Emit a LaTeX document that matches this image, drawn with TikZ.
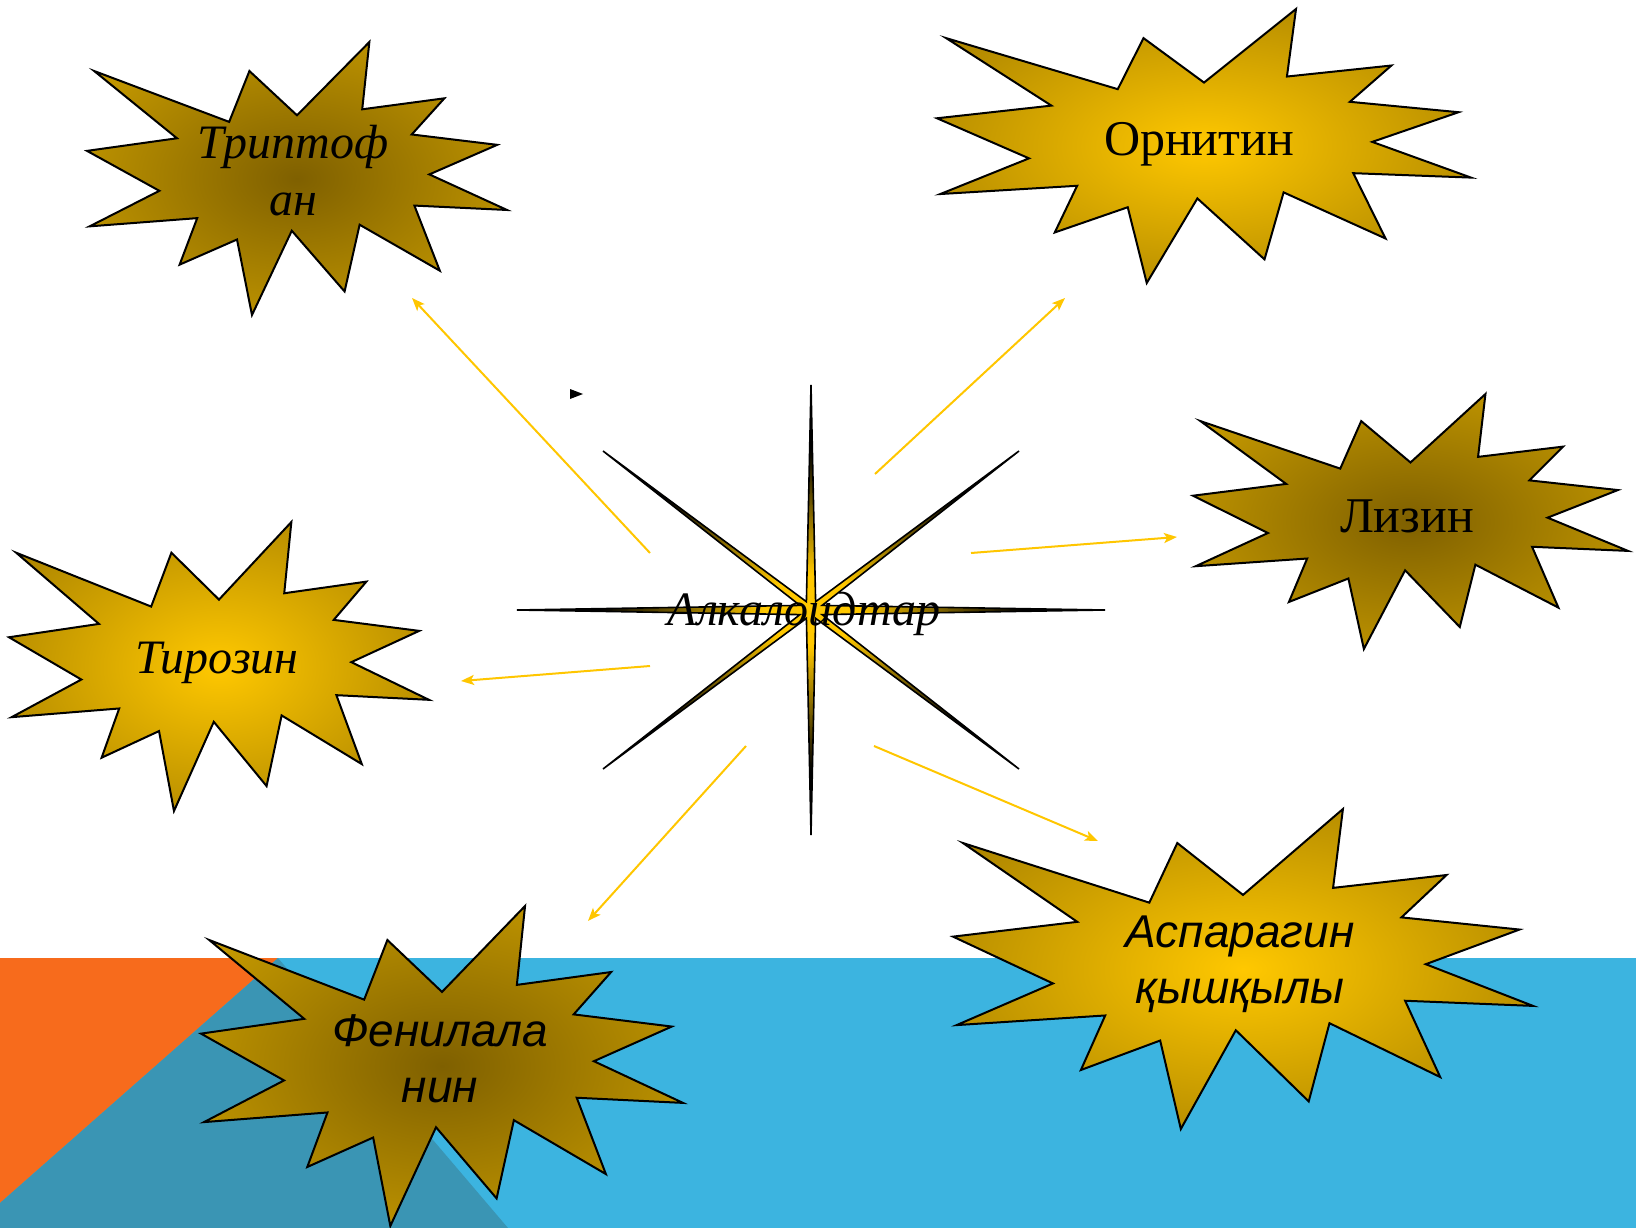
\documentclass[tikz,border=0pt]{standalone}
\usepackage{fontspec}
\setmainfont{Liberation Serif}
\newfontfamily\arialf{Liberation Sans}
\usetikzlibrary{arrows.meta}
\definecolor{goldlt}{HTML}{FFC800}
\definecolor{golddk}{HTML}{7F6000}
\definecolor{arrowc}{HTML}{FFC600}
\definecolor{bandblue}{HTML}{3CB4E0}
\definecolor{bandteal}{HTML}{3A95B4}
\definecolor{bandorange}{HTML}{F76B1C}
\newcommand{\SerifF}{\fontsize{48}{57}\selectfont}
\newcommand{\SerifL}{\fontsize{50}{57}\selectfont}
\newcommand{\SansF}{\fontsize{46}{56}\selectfont\arialf}
\pgfdeclareradialshading{brightcore}{\pgfpoint{0bp}{0bp}}{color(0bp)=(goldlt); color(47bp)=(golddk); color(100bp)=(golddk)}
\pgfdeclareradialshading{darkcore}{\pgfpoint{0bp}{0bp}}{color(0bp)=(golddk); color(46bp)=(goldlt!92!black); color(100bp)=(goldlt!92!black)}
\pgfdeclareradialshading{starcore}{\pgfpoint{0bp}{0bp}}{color(0bp)=(goldlt); color(4bp)=(goldlt); color(18bp)=(black); color(42bp)=(black); color(50bp)=(white!60!black); color(100bp)=(white)}
\tikzset{
  burstline/.style={draw=black, line width=2pt},
  feed/.style={draw=arrowc, line width=2pt, -{Stealth[length=13pt, width=10pt, inset=3pt]}},
  serifi/.style={font=\SerifF\itshape, align=center, anchor=base},
  serifu/.style={font=\SerifL, anchor=base},
  sansi/.style={font=\SansF\itshape, align=center, anchor=base},
}
% left, top, width, height, shading
\newcommand{\burst}[5]{%
  \begin{scope}[shift={(#1,#2)}, x=#3pt, y=-#4pt]
    \shadedraw[burstline, shading=#5] (0.5,0.2685) -- (0.6723,0) -- (0.6553,0.2465)
      -- (0.8509,0.2063) -- (0.7732,0.3387) -- (0.9767,0.3767) -- (0.8151,0.4850)
      -- (1,0.6153) -- (0.7795,0.5992) -- (0.8400,0.8377) -- (0.6491,0.6693)
      -- (0.6133,0.9138) -- (0.4876,0.6914) -- (0.3928,1) -- (0.3572,0.7235)
      -- (0.2205,0.8156) -- (0.2624,0.6452) -- (0.00625,0.6753) -- (0.1723,0.5451)
      -- (0,0.3988) -- (0.2142,0.3526) -- (0.0171,0.1063) -- (0.3385,0.2926)
      -- (0.3867,0.1063) -- cycle;
  \end{scope}
}

\begin{document}
\begin{tikzpicture}[x=1pt,y=-1pt]
\useasboundingbox (0,0) rectangle (1636,1228);
% background bands
\fill[bandblue] (0,958) rectangle (1636,1228);
\fill[bandorange] (0,958) -- (278,958) -- (0,1203) -- cycle;
\fill[bandteal] (0,1203) -- (278,958) -- (508,1228) -- (0,1228) -- cycle;

% arrows out of the centre
\coordinate (tTr) at (650,553);  \coordinate (hTr) at (412,298);
\coordinate (tOr) at (875,474);  \coordinate (hOr) at (1065,298);
\coordinate (tLy) at (971,553);  \coordinate (hLy) at (1177,537);
\coordinate (tTy) at (650,666);  \coordinate (hTy) at (461,681);
\coordinate (tPh) at (746,746);  \coordinate (hPh) at (588,921);
\coordinate (tAs) at (874,746);  \coordinate (hAs) at (1098,841);
\draw[feed] (tTr) -- (hTr);
\draw[feed] (tOr) -- (hOr);
\draw[feed] (tLy) -- (hLy);
\draw[feed] (tTy) -- (hTy);
\draw[feed] (tPh) -- (hPh);
\draw[feed] (tAs) -- (hAs);

% centre star
\begin{scope}[shift={(811,610)}]
  \shadedraw[shading=starcore, draw=black, line width=1.6pt]
    (294,0) -- (11.1,4.6) -- (208,159) -- (4.6,8.3) -- (0,225) -- (-4.6,8.3)
    -- (-208,159) -- (-11.1,4.6) -- (-294,0) -- (-11.1,-4.6) -- (-208,-159)
    -- (-4.6,-8.3) -- (0,-225) -- (4.6,-8.3) -- (208,-159) -- (11.1,-4.6) -- cycle;
\end{scope}
\fill (570,389) -- (583,394) -- (570,399) -- cycle;

% bursts
\burst{87}{42}{420}{273}{darkcore}
\burst{937}{9}{534}{274}{brightcore}
\burst{1193}{394}{435}{255}{darkcore}
\burst{9}{522}{420}{289}{brightcore}
\burst{953}{809}{580}{320}{brightcore}
\burst{201}{906}{482}{320}{darkcore}

% labels
\node[serifi] (alk) at (804,625) {Алкалоидтар};
\node[serifi] (trypt) at (293,215) {Триптоф\\ан};
\node[serifu] (ornit) at (1199,156) {Орнитин};
\node[serifu] (lysin) at (1407,532) {Лизин};
\node[serifi] (tyros) at (217,673) {Тирозин};
\node[sansi] (phenyl) at (440,1102) {Фенилала\\нин};
\node[sansi] (aspar) at (1240,1003) {Аспарагин\\қышқылы};
\end{tikzpicture}
\end{document}
